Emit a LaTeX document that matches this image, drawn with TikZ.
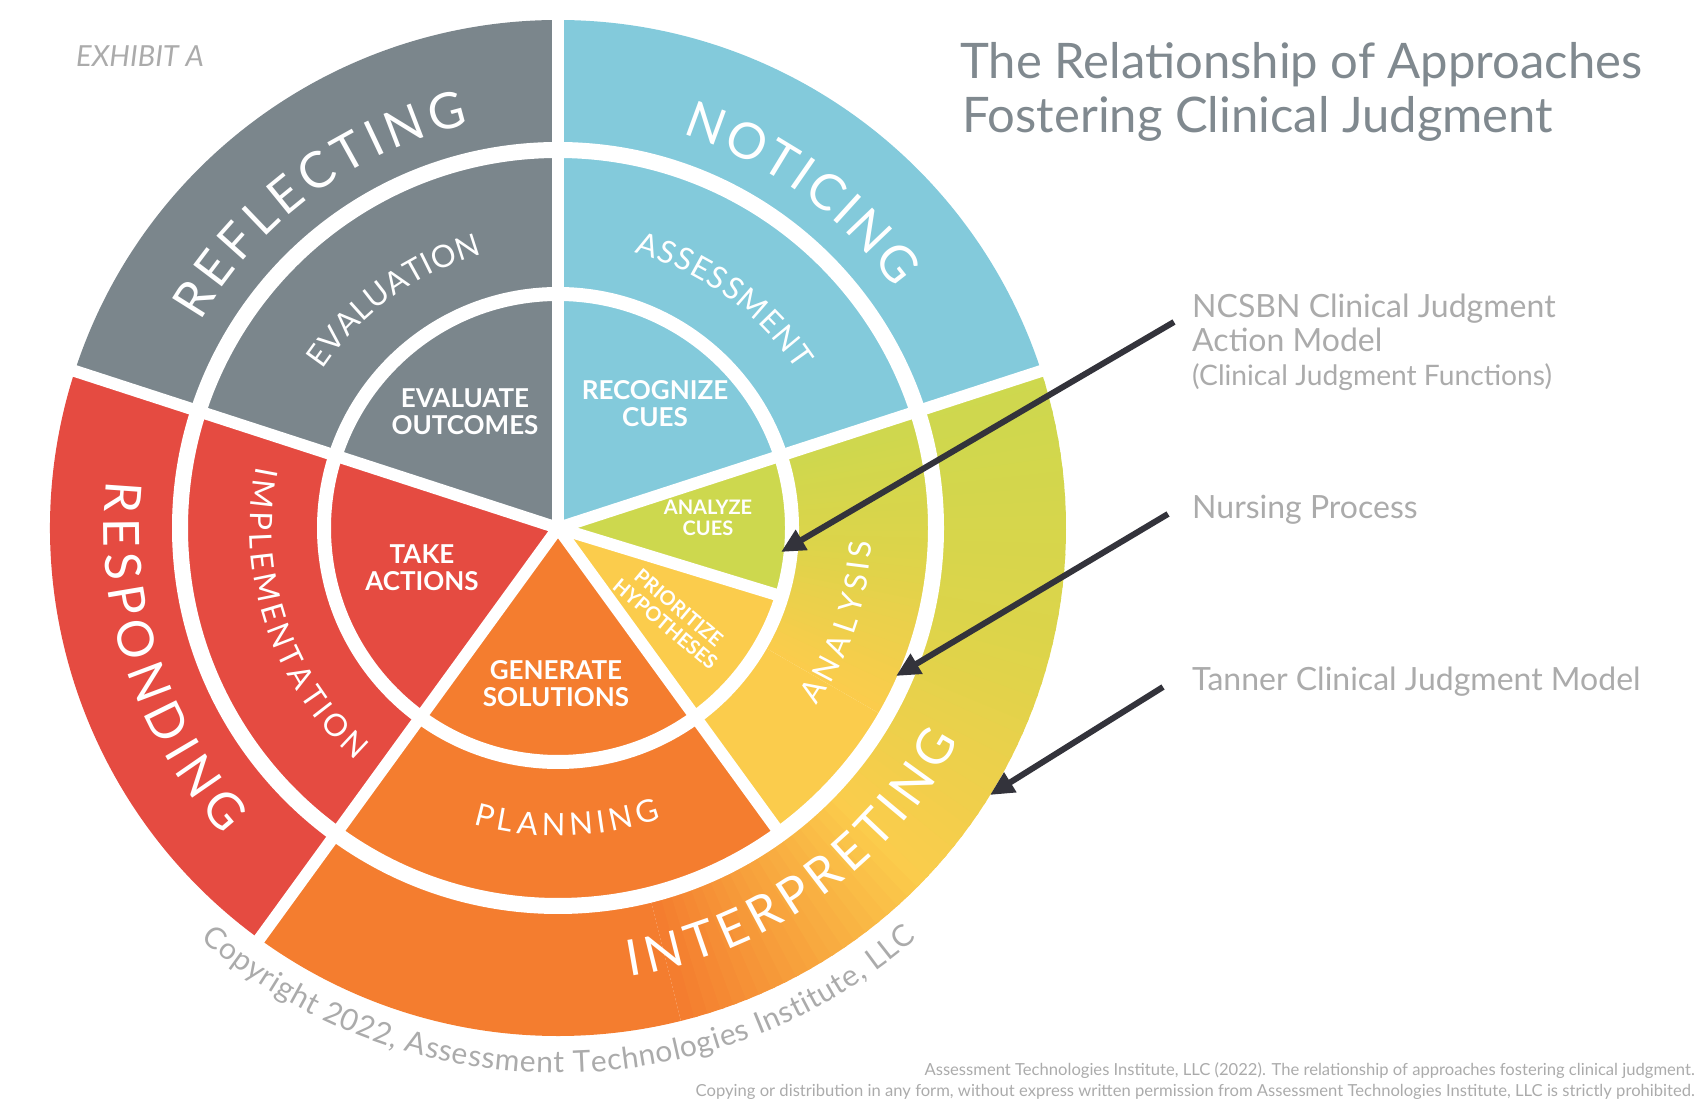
\documentclass[tikz,border=0pt]{standalone}
\usepackage{fontspec}
\setmainfont{Lato}
\usetikzlibrary{decorations.text,arrows.meta}
\definecolor{cgrey}{HTML}{7B868C}
\definecolor{cblue}{HTML}{83CADB}
\definecolor{cred}{HTML}{E54B41}
\definecolor{corange}{HTML}{F47D2F}
\definecolor{cyellow}{HTML}{FBCC4C}
\definecolor{cgreen}{HTML}{CDD84E}
\definecolor{cmid}{HTML}{DDD44A}
\definecolor{ctitle}{HTML}{80898F}
\definecolor{clabel}{HTML}{ABABAB}
\definecolor{carrow}{HTML}{33333B}
\newcommand\fbig{\fontsize{50}{50}\selectfont}
\newcommand\fmid{\fontsize{31}{31}\selectfont}
\newcommand\fcopy{\fontsize{30}{30}\selectfont}
\newcommand\arclabel[6]{%
  \path[decorate,decoration={text along path,text align={fit to path},
    text={|\color{#5}#4|#6}}] (#2:#1) arc[start angle=#2,end angle=#3,radius=#1pt];}
\newcommand\band[5]{% r1 r2 a1 a2 colour
  \fill[#5] (#3:#2) arc[start angle=#3,end angle=#4,radius=#2pt] -- (#4:#1)
     arc[start angle=#4,end angle=#3,radius=#1pt] -- cycle;}
\newcommand\gradband[6]{% r1 r2 a1 a2 colA colB
  \foreach \k in {0,...,19}{%
    \pgfmathsetmacro\aS{#3+(#4-#3)*\k/20}%
    \pgfmathsetmacro\aE{#3+(#4-#3)*(\k+1.3)/20}%
    \pgfmathsetmacro\pc{\k*5}%
    \colorlet{gradtmp}{#6!\pc!#5}%
    \band{#1}{#2}{\aS}{\aE}{gradtmp}}}
\tikzset{
  x=1pt,y=1pt,
  spoke/.style={white,line width=12pt,line cap=butt},
  inner/.style={white,font=\bfseries\fontsize{26}{27}\selectfont,align=center,inner sep=0pt},
  small/.style={white,font=\bfseries\fontsize{20}{21}\selectfont,align=center,inner sep=0pt},
  lbl/.style={clabel,font=\fontsize{32}{34}\selectfont,anchor=west,align=left,inner sep=0pt},
  ttl/.style={ctitle,font=\fontsize{49}{49}\selectfont,anchor=west,inner sep=0pt},
  pointer/.style={carrow,line width=6pt,-{Triangle[length=24pt,width=22pt]}},
  foot/.style={clabel,font=\fontsize{16.6}{16.6}\selectfont,anchor=east,inner sep=0pt},
}
\begin{document}
\begin{tikzpicture}
\useasboundingbox (0,0) rectangle (1696,1100);
\begin{scope}[shift={(558,572)}]
  % sectors
  \band{0.01}{508}{18}{90}{cblue}
  \band{0.01}{508}{90}{162}{cgrey}
  \band{0.01}{508}{162}{234}{cred}
  \band{0.01}{378}{234}{306}{corange}
  % interpreting (outer)
  \band{378}{508}{234}{284}{corange}
  \gradband{378}{508}{284}{315}{corange}{cyellow}
  \gradband{378}{508}{315}{345}{cyellow}{cmid}
  \gradband{378}{508}{345}{378}{cmid}{cgreen}
  % analysis (middle)
  \band{234}{378}{306}{330}{cyellow}
  \gradband{234}{378}{330}{355}{cyellow}{cmid}
  \gradband{234}{378}{355}{378}{cmid}{cgreen}
  % inner
  \band{0.01}{234}{306}{343}{cyellow}
  \band{0.01}{234}{343}{378}{cgreen}
  % rings and spokes
  \draw[white,line width=16pt] (0,0) circle[radius=378pt];
  \draw[white,line width=14pt] (0,0) circle[radius=234pt];
  \foreach \a in {90,18,162,234}{\draw[spoke] (0,0) -- (\a:516);}
  \draw[spoke] (0,0) -- (306:378);
  \draw[spoke] (0,0) -- (343:234);
  % ring labels
  \arclabel{413}{150}{102.5}{\fbig}{white}{REFLECTING}
  \arclabel{413}{72.5}{35.5}{\fbig}{white}{NOTICING}
  \arclabel{454}{174}{222.5}{\fbig}{white}{RESPONDING}
  \arclabel{454}{279}{332}{\fbig}{white}{INTERPRETING}
  \arclabel{284}{146}{105.5}{\fmid}{white}{EVALUATION}
  \arclabel{286}{74.5}{33.5}{\fmid}{white}{ASSESSMENT}
  \arclabel{308}{168.5}{229}{\fmid}{white}{IMPLEMENTATION}
  \arclabel{314}{325.5}{357.5}{\fmid}{white}{ANALYSIS}
  \arclabel{308}{254}{289.5}{\fmid}{white}{PLANNING}
  \arclabel{545}{229}{311}{\fcopy}{clabel}{Copyright 2022, Assessment Technologies Institute, LLC}
\end{scope}
% inner sector texts
\node[inner] (evaluate) at (465,688) {EVALUATE\\OUTCOMES};
\node[inner] (recognize) at (655,696) {RECOGNIZE\\CUES};
\node[small] (analyze) at (708,582) {ANALYZE\\CUES};
\node[small,rotate=-40] (prioritize) at (672,484) {PRIORITIZE\\HYPOTHESES};
\node[inner] (take) at (422,532) {TAKE\\ACTIONS};
\node[inner] (generate) at (556,416) {GENERATE\\SOLUTIONS};
% header and captions
\node[clabel,font=\itshape\fontsize{29}{29}\selectfont,anchor=west,inner sep=0pt] (exhibit) at (76,1044) {EXHIBIT A};
\node[ttl] (title1) at (960,1035) {The Relationship of Approaches};
\node[ttl] (title2) at (962,981) {Fostering Clinical Judgment};
\node[lbl] (ncsbn) at (1192,758) {NCSBN Clinical Judgment\\Action Model\\{\fontsize{28.2}{34}\selectfont (Clinical Judgment Functions)}};
\node[lbl] (nursing) at (1192,590) {Nursing Process};
\node[lbl] (tanner) at (1192,418) {Tanner Clinical Judgment Model};
% arrows
\coordinate (s1) at (1174,778);
\coordinate (e1) at (781,548);
\coordinate (s2) at (1168,586);
\coordinate (e2) at (896,424);
\coordinate (s3) at (1163,413);
\coordinate (e3) at (990,305);
\draw[pointer] (s1) -- (e1);
\draw[pointer] (s2) -- (e2);
\draw[pointer] (s3) -- (e3);
% footer
\node[foot] (foot1) at (1695,29) {Assessment Technologies Institute, LLC (2022). The relationship of approaches fostering clinical judgment.};
\node[foot] (foot2) at (1695,8) {Copying or distribution in any form, without express written permission from Assessment Technologies Institute, LLC is strictly prohibited.};
\end{tikzpicture}
\end{document}
